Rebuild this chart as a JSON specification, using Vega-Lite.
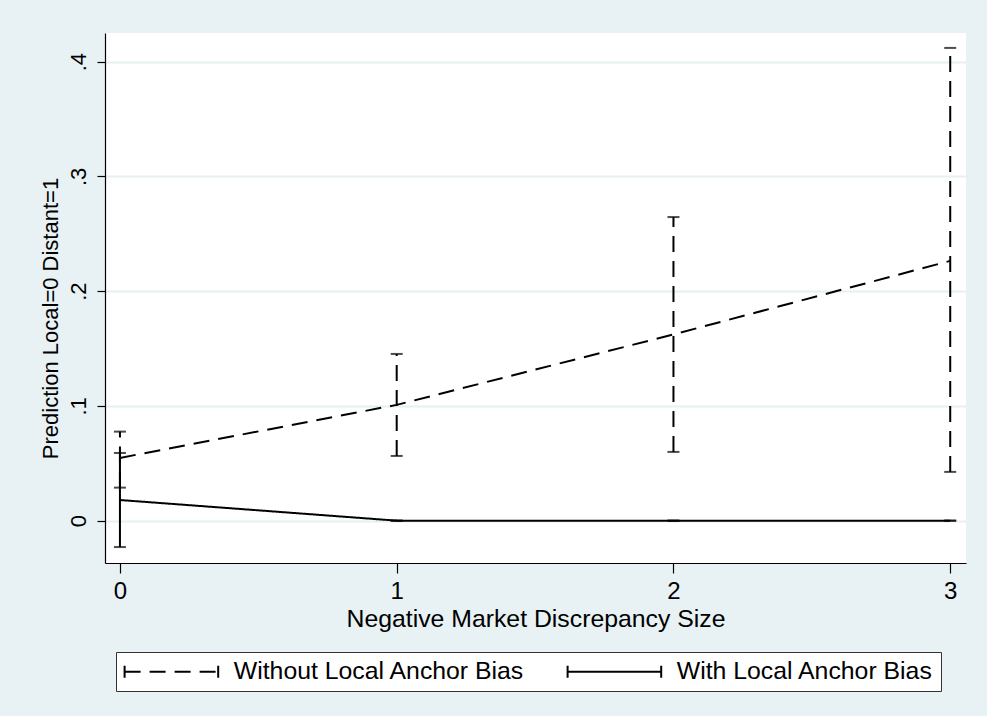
{
  "$schema": "https://vega.github.io/schema/vega-lite/v6.json",
  "width": 861,
  "height": 530,
  "padding": {"left": 39, "top": 33, "right": 22, "bottom": 27},
  "background": "#E8F1F3",
  "view": {"fill": "white", "stroke": null},
  "config": {
    "font": "Liberation Sans",
    "axis": {"domainColor": "black", "tickColor": "black", "labelColor": "black", "titleColor": "black", "labelFontSize": 24, "titleFontSize": 24, "titleFontWeight": "normal", "labelFont": "Liberation Sans", "titleFont": "Liberation Sans", "domainWidth": 1.2, "tickWidth": 1.2}
  },
  "data": {
    "values": [
      {"x": 0, "series": "Without Local Anchor Bias", "est": 0.0547, "lo": 0.0288, "hi": 0.0776},
      {"x": 1, "series": "Without Local Anchor Bias", "est": 0.1009, "lo": 0.0564, "hi": 0.1453},
      {"x": 2, "series": "Without Local Anchor Bias", "est": 0.1623, "lo": 0.0599, "hi": 0.2646},
      {"x": 3, "series": "Without Local Anchor Bias", "est": 0.2264, "lo": 0.0425, "hi": 0.412},
      {"x": 0, "series": "With Local Anchor Bias", "est": 0.018, "lo": -0.023, "hi": 0.059},
      {"x": 1, "series": "With Local Anchor Bias", "est": 0.0, "lo": 0.0, "hi": 0.0},
      {"x": 2, "series": "With Local Anchor Bias", "est": 0.0, "lo": 0.0, "hi": 0.0},
      {"x": 3, "series": "With Local Anchor Bias", "est": 0.0, "lo": 0.0, "hi": 0.0}
    ]
  },
  "encoding": {
    "x": {"field": "x", "type": "quantitative",
      "scale": {"domain": [-0.054, 3.057], "nice": false, "zero": false},
      "axis": {"values": [0, 1, 2, 3], "format": "d", "grid": false, "tickSize": 10, "labelPadding": 6, "titlePadding": 3, "titleFontSize": 24.8, "title": "Negative Market Discrepancy Size"}
    }
  },
  "layer": [
    {
      "mark": {"type": "line", "color": "black", "strokeWidth": 2},
      "encoding": {
        "y": {"field": "est", "type": "quantitative",
          "scale": {"domain": [-0.0369, 0.425], "nice": false, "zero": false},
          "axis": {"values": [0, 0.1, 0.2, 0.3, 0.4], "labelExpr": "datum.value == 0 ? '0' : replace(format(datum.value, '.1f'), '0.', '.')", "labelAngle": -90, "labelAlign": "center", "labelBaseline": "bottom", "labelPadding": 7, "labelFontSize": 22, "tickSize": 8, "grid": true, "gridColor": "#E6EFF1", "gridWidth": 2, "titlePadding": 5, "titleFontSize": 22, "titleY": 285, "title": "Prediction Local=0 Distant=1"}
        },
        "strokeDash": {"field": "series", "type": "nominal",
          "scale": {"domain": ["Without Local Anchor Bias", "With Local Anchor Bias"], "range": [[16, 9], [1, 0]]},
          "legend": {"orient": "none", "legendX": 11, "legendY": 619, "direction": "horizontal", "title": null, "strokeColor": "#333333", "fillColor": "white", "padding": 7, "symbolType": "M-1.8,-1L-1.8,1M-1.8,0L13.8,0M13.8,-1L13.8,1", "symbolSize": 144, "symbolStrokeWidth": 2, "symbolStrokeColor": "black", "symbolFillColor": "transparent", "labelOffset": 86, "columnPadding": 38, "labelFontSize": 24.8, "labelFont": "Liberation Sans", "labelColor": "black", "labelLimit": 400}
        }
      }
    },
    {
      "mark": {"type": "rule", "color": "black", "strokeWidth": 2},
      "encoding": {
        "y": {"field": "lo", "type": "quantitative"},
        "y2": {"field": "hi"},
        "strokeDash": {"field": "series", "type": "nominal", "legend": null}
      }
    },
    {
      "mark": {"type": "tick", "color": "black", "thickness": 2, "size": 12, "orient": "horizontal"},
      "encoding": {"y": {"field": "lo", "type": "quantitative"}}
    },
    {
      "mark": {"type": "tick", "color": "black", "thickness": 2, "size": 12, "orient": "horizontal"},
      "encoding": {"y": {"field": "hi", "type": "quantitative"}}
    }
  ]
}
